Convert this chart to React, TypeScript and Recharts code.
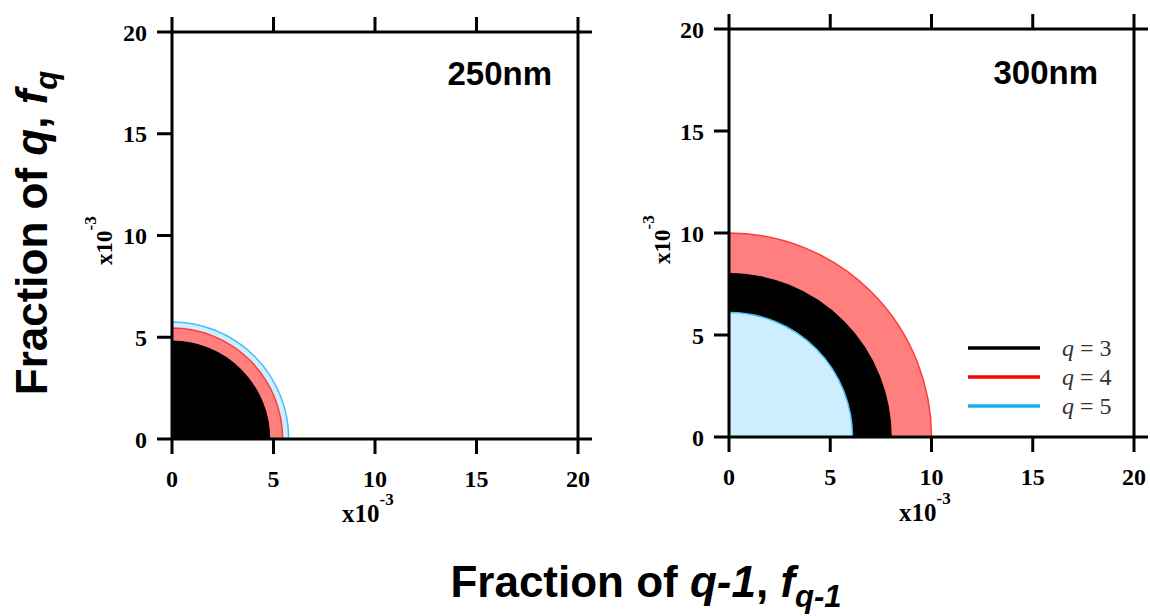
import React from 'react';
import { ComposedChart, XAxis, YAxis, ReferenceArea } from 'recharts';

// ---- data ----
const axisTicks = [0, 5, 10, 15, 20];
const cornerTicks = [0, 20];
const qValues = [3, 4, 5];
const legendLabels = ['q = 3', 'q = 4', 'q = 5'];
const panelTitles = ['250nm', '300nm'];
// radius (x10^-3) of each quarter disc, in order q = 3, 4, 5
const radius250 = [4.8, 5.45, 5.75];
const radius300 = [8.0, 10.0, 6.1];
const fillColors = ['#000000', '#ff7f7f', '#cdeeff'];
const edgeColors = ['#000000', '#ff3b3b', '#4fbdf2'];
const legendColors = ['#000000', '#ff0000', '#1aaee8'];

const tickFont = {
  fontFamily: "'Liberation Serif','Times New Roman',serif",
  fontWeight: 700,
  fontSize: 24,
  fill: '#000',
};
const sansFont = "'Liberation Sans', Arial, sans-serif";
const serifFont = "'Liberation Serif','Times New Roman',serif";
const blank = () => '';

const quarterDisc = (fill: string, stroke: string) => (props: any) => {
  const { x, y, width, height } = props;
  const by = y + height;
  const d = `M${x},${by} L${x},${y} A${width},${height} 0 0 1 ${x + width},${by} Z`;
  return <path d={d} fill={fill} stroke={stroke} strokeWidth={1.5} />;
};

type PanelProps = { radii: number[]; left: number; margin: any };

function Panel({ radii, left, margin }: PanelProps) {
  const order = radii
    .map((r, i) => ({ r, i }))
    .sort((a, b) => b.r - a.r);
  const axisLineStyle = { stroke: '#000', strokeWidth: 3 };
  return (
    <div style={{ position: 'absolute', left, top: 0 }}>
      <ComposedChart width={600} height={540} margin={margin} data={[]}>
        {order.map(({ r, i }) => (
          <ReferenceArea
            key={qValues[i]}
            xAxisId="b"
            yAxisId="l"
            x1={0}
            x2={r}
            y1={0}
            y2={r}
            shape={quarterDisc(fillColors[i], edgeColors[i])}
            ifOverflow="visible"
          />
        ))}
        <XAxis
          xAxisId="b"
          type="number"
          dataKey="x"
          domain={[0, 20]}
          ticks={axisTicks}
          interval={0}
          orientation="bottom"
          height={60}
          tickSize={15}
          tickMargin={16}
          tick={tickFont}
          axisLine={axisLineStyle}
          tickLine={axisLineStyle}
          allowDataOverflow
        />
        <XAxis
          xAxisId="t"
          type="number"
          dataKey="x"
          domain={[0, 20]}
          ticks={axisTicks}
          interval={0}
          orientation="top"
          height={20}
          tickSize={15}
          tickFormatter={blank}
          axisLine={axisLineStyle}
          tickLine={axisLineStyle}
          allowDataOverflow
        />
        <YAxis
          yAxisId="l"
          type="number"
          dataKey="y"
          domain={[0, 20]}
          ticks={axisTicks}
          interval={0}
          orientation="left"
          width={60}
          tickSize={15}
          tickMargin={10}
          tick={tickFont}
          axisLine={axisLineStyle}
          tickLine={axisLineStyle}
          allowDataOverflow
        />
        <YAxis
          yAxisId="r"
          type="number"
          dataKey="y"
          domain={[0, 20]}
          ticks={cornerTicks}
          interval={0}
          orientation="right"
          width={20}
          tickSize={14}
          tickFormatter={blank}
          axisLine={axisLineStyle}
          tickLine={axisLineStyle}
          allowDataOverflow
        />
      </ComposedChart>
    </div>
  );
}

function Exponent({ x, y }: { x: number; y: number }) {
  return (
    <text x={x} y={y} fontFamily={serifFont} fontWeight={700} fontSize={25} fill="#000">
      x10
      <tspan dy={-17} fontSize={17}>-3</tspan>
    </text>
  );
}

function RotExponent({ x, y }: { x: number; y: number }) {
  return (
    <text
      transform={`translate(${x},${y}) rotate(-90)`}
      fontFamily={serifFont}
      fontWeight={700}
      fontSize={23}
      fill="#000"
    >
      x10
      <tspan dy={-16} fontSize={17}>-3</tspan>
    </text>
  );
}

export default function App() {
  return (
    <div style={{ position: 'absolute', left: 0, top: 0, width: 1150, height: 616, background: '#fff', overflow: 'hidden' }}>
      <Panel radii={radius250} left={0} margin={{ top: 12, right: 2, bottom: 41, left: 112 }} />
      <Panel radii={radius300} left={557} margin={{ top: 9, right: 3, bottom: 43, left: 112 }} />
      <svg width={1150} height={616} style={{ position: 'absolute', left: 0, top: 0, pointerEvents: 'none' }}>
        {/* panel titles */}
        <text x={552} y={85} textAnchor="end" fontFamily={sansFont} fontWeight={700} fontSize={33} fill="#000">
          {panelTitles[0]}
        </text>
        <text x={1098} y={84} textAnchor="end" fontFamily={sansFont} fontWeight={700} fontSize={33} fill="#000">
          {panelTitles[1]}
        </text>
        {/* exponent labels */}
        <Exponent x={342} y={522} />
        <Exponent x={899} y={521} />
        <RotExponent x={112} y={265} />
        <RotExponent x={670} y={264} />
        {/* axis titles */}
        <text
          transform="translate(47,233) rotate(-90)"
          textAnchor="middle"
          fontFamily={sansFont}
          fontWeight={700}
          fontSize={44}
          fill="#000"
        >
          Fraction of <tspan fontStyle="italic">q</tspan>, <tspan fontStyle="italic">f</tspan>
          <tspan fontStyle="italic" fontSize={31} dy={10}>q</tspan>
        </text>
        <text x={646} y={597} textAnchor="middle" fontFamily={sansFont} fontWeight={700} fontSize={44} fill="#000">
          Fraction of <tspan fontStyle="italic">q-1</tspan>, <tspan fontStyle="italic">f</tspan>
          <tspan fontStyle="italic" fontSize={31} dy={10}>q-1</tspan>
        </text>
        {/* legend */}
        {legendLabels.map((lab, i) => {
          const ly = 348 + i * 29;
          const q = lab.slice(0, 1);
          const rest = lab.slice(1);
          return (
            <g key={lab}>
              <line x1={968} x2={1040} y1={ly} y2={ly} stroke={legendColors[i]} strokeWidth={3.5} />
              <text x={1062} y={ly + 8} fontFamily={serifFont} fontSize={24} fill="#333">
                <tspan fontStyle="italic">{q}</tspan>
                {rest}
              </text>
            </g>
          );
        })}
      </svg>
    </div>
  );
}
